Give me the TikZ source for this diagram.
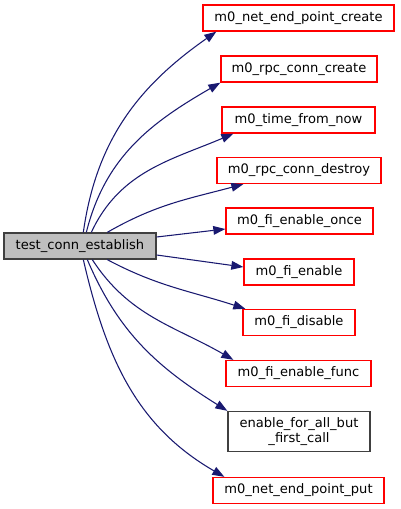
\documentclass[tikz,border=0pt]{standalone}
\usepackage{fontspec}
\setmainfont{DejaVu Sans}
\usetikzlibrary{arrows.meta}

\definecolor{edgeblue}{HTML}{191970}
\definecolor{rootfill}{HTML}{BFBFBF}
\definecolor{boxgray}{HTML}{404040}
\definecolor{boxred}{HTML}{FF0000}

\tikzset{
  fn/.style={draw=boxred, line width=1pt, fill=white, minimum height=19.5pt, inner sep=1pt,
    font=\fontsize{9.8}{11.8}\selectfont, align=center},
  rootfn/.style={fn, draw=boxgray, fill=rootfill},
  docfn/.style={fn, draw=boxgray},
  call/.style={draw=edgeblue, line width=0.8pt, -{Triangle[length=9pt,width=6.5pt]}}
}

\begin{document}
\begin{tikzpicture}[x=0.75pt,y=-0.75pt]
\useasboundingbox (0,0) rectangle (400,509);

\node[rootfn, minimum width=114pt] (root) at (80,246) {test\_conn\_establish};

\node[fn, minimum width=143.25pt] (nepcreate) at (298.5,18) {m0\_net\_end\_point\_create};
\node[fn, minimum width=117pt] (rpccreate) at (299,69) {m0\_rpc\_conn\_create};
\node[fn, minimum width=114.75pt] (timenow) at (298.5,120) {m0\_time\_from\_now};
\node[fn, minimum width=123pt] (rpcdestroy) at (299,170.5) {m0\_rpc\_conn\_destroy};
\node[fn, minimum width=110.25pt] (fionce) at (299.5,221) {m0\_fi\_enable\_once};
\node[fn, minimum width=82.5pt] (fienable) at (299,272) {m0\_fi\_enable};
\node[fn, minimum width=84pt] (fidisable) at (299,322.5) {m0\_fi\_disable};
\node[fn, minimum width=108.75pt] (fifunc) at (298.5,373.5) {m0\_fi\_enable\_func};
\node[docfn, minimum width=106.5pt, minimum height=30pt] (allbutfirst) at (299,431.5) {enable\_for\_all\_but\\\_first\_call};
\node[fn, minimum width=128.25pt] (nepput) at (298.5,490.5) {m0\_net\_end\_point\_put};

% calls going up
\draw[call] ([xshift=60pt]root.north west) to[out=82,in=215] ([xshift=10.5pt]nepcreate.south west);
\draw[call] ([xshift=62.25pt]root.north west) to[out=76,in=210] (rpccreate.south west);
\draw[call] ([xshift=66pt]root.north west) to[out=65,in=203] ([xshift=9pt]timenow.south west);
\draw[call] ([xshift=78pt]root.north west) to[out=30,in=195] ([xshift=20.25pt]rpcdestroy.south west);

% straight calls
\draw[call] ([yshift=6.75pt]root.east) -- ([yshift=-6pt]fionce.west);
\draw[call] ([yshift=-6.75pt]root.east) -- ([yshift=3.75pt]fienable.west);

% calls going down
\draw[call] ([xshift=78pt]root.south west) to[out=-28,in=162] ([xshift=2.25pt]fidisable.north west);
\draw[call] ([xshift=66.75pt]root.south west) to[out=-57,in=150] ([xshift=6pt]fifunc.north west);
\draw[call] ([xshift=63pt]root.south west) to[out=-67,in=148] (allbutfirst.north west);
\draw[call] ([xshift=60pt]root.south west) to[out=-77,in=150] ([xshift=9pt]nepput.north west);
\end{tikzpicture}
\end{document}
